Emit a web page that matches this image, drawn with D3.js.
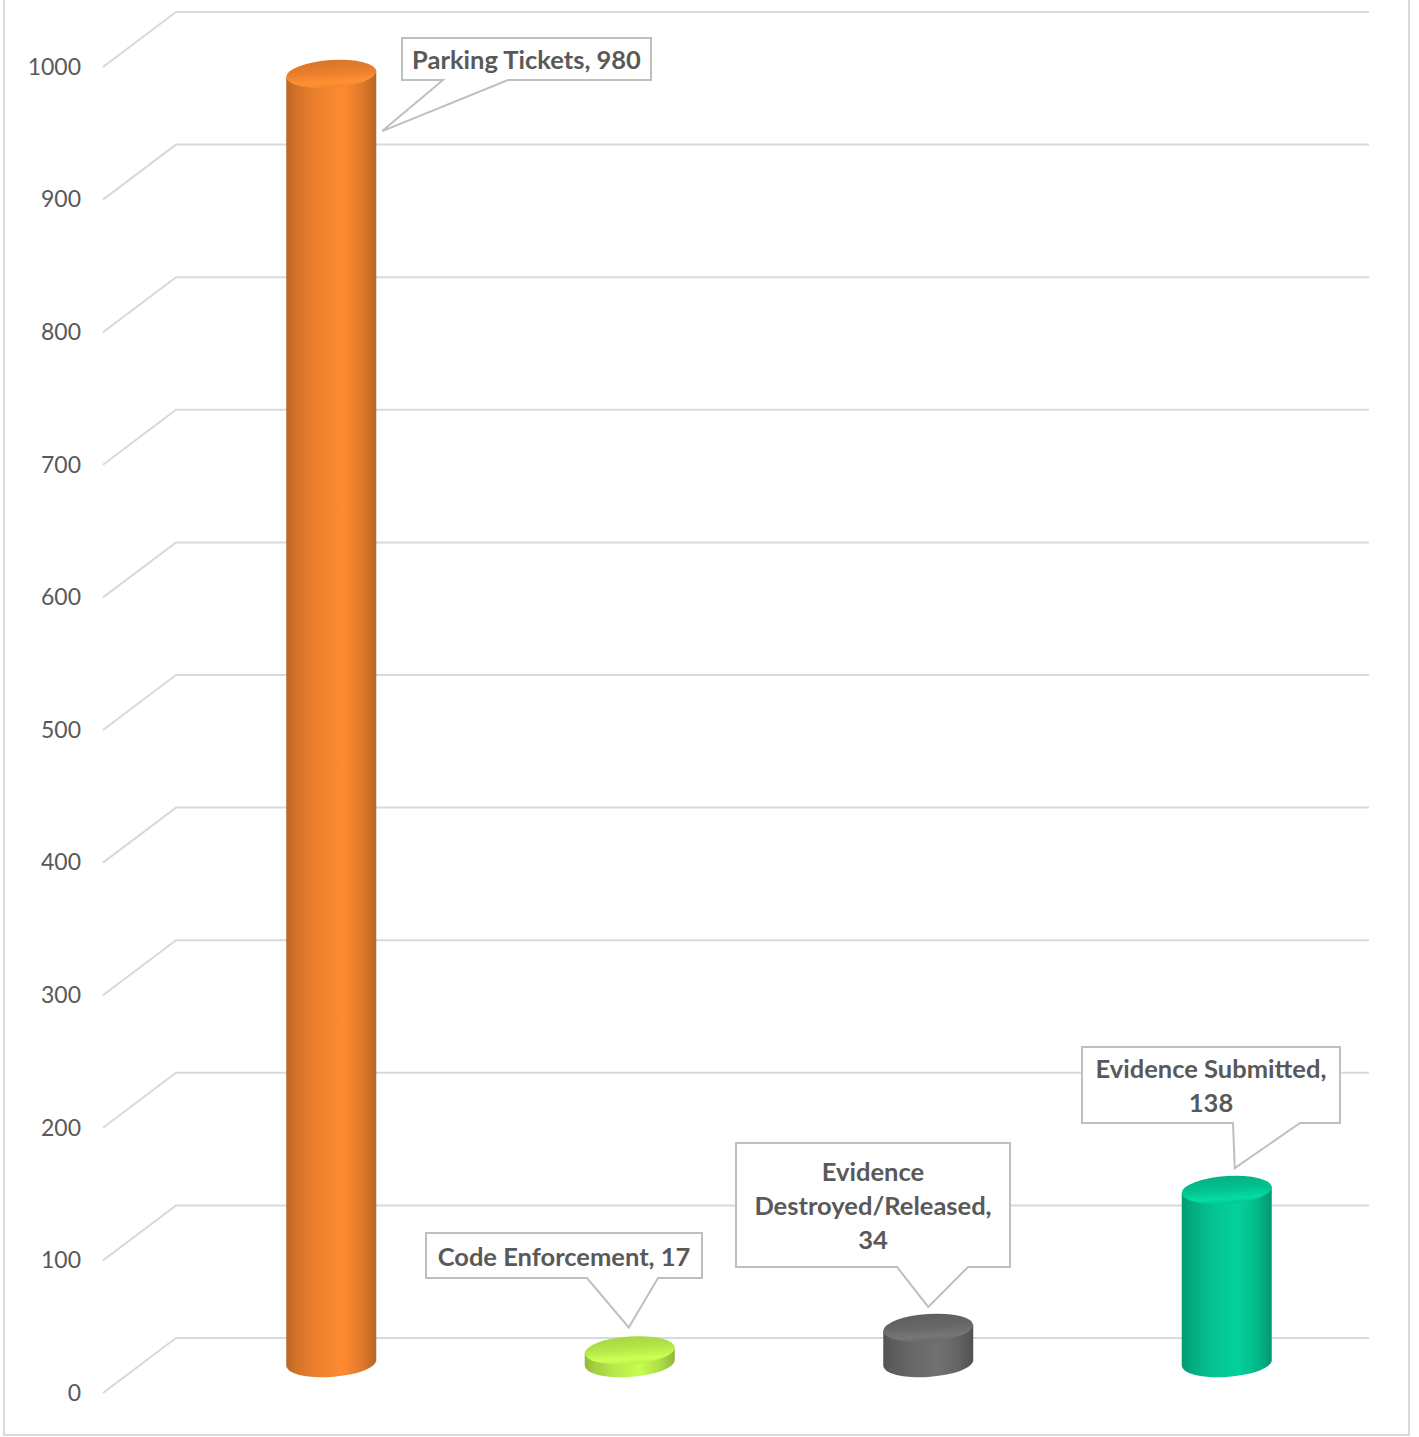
<!DOCTYPE html>
<html>
<head>
<meta charset="utf-8">
<script src="https://cdn.jsdelivr.net/npm/d3@7"></script>
<style>
  body { margin: 0; background: #ffffff; }
  svg { display: block; }
</style>
</head>
<body>
<svg id="chart" width="1419" height="1437"></svg>
<script>
// ---- data ----
const categories = ["Parking Tickets", "Code Enforcement", "Evidence Destroyed/Released", "Evidence Submitted"];
const values = [980, 17, 34, 138];
const tickValues = [0, 100, 200, 300, 400, 500, 600, 700, 800, 900, 1000];
const barColors = ["#f5852f", "#bdf24c", "#6c6c6c", "#03c995"];

// ---- layout ----
const wall = { left: 176, right: 1369 };          // back wall horizontal extent
const depth = { dx: -73, dy: 55 };                 // offset from back wall to front edge of floor
const radius = { rx: 45, ry: 14 };                 // cylinder cross-section
const tilt = -3.6;                                 // skew of the cylinder ellipses (degrees)

// callout boxes: [x0, y0, x1, y1], pointer base x-range, tip offset from bar top centre, wrap width
const callouts = [
  { box: [402, 38, 651, 80],      base: [443, 508],   tip: [51, 57],  wrap: 400 },
  { box: [426, 1233, 702, 1278],  base: [587, 658],   tip: [-1, -23], wrap: 400 },
  { box: [736, 1143, 1010, 1267], base: [897, 968],   tip: [0, -21],  wrap: 255 },
  { box: [1082, 1047, 1340, 1123], base: [1233, 1300], tip: [8, -22], wrap: 255 }
];

const svg = d3.select("#chart");
const defs = svg.append("defs");

// scales
const yWall = d3.scaleLinear().domain([0, 1000]).range([1338, 12]);
const yBar = d3.scaleLinear().domain([0, 1000]).range([1373, 47.6]);
const floorY = 1363;
const x = d3.scaleBand().domain(categories).range([182, 1376]);

// chart frame
svg.append("path")
  .attr("d", "M4,0 V1435 H1409 V0")
  .attr("fill", "none")
  .attr("stroke", "#d9d9d9")
  .attr("stroke-width", 2);

// gridlines: side wall diagonal + back wall horizontal
svg.append("g").selectAll("path")
  .data(tickValues)
  .join("path")
  .attr("d", d => {
    const y = yWall(d);
    return `M${wall.left + depth.dx},${y + depth.dy} L${wall.left},${y} L${wall.right},${y}`;
  })
  .attr("fill", "none")
  .attr("stroke", "#d9d9d9")
  .attr("stroke-width", 2);

// value axis labels sit at the front edge of the side wall
const axis = svg.append("g")
  .attr("transform", `translate(81,${depth.dy})`)
  .call(d3.axisLeft(yWall).tickValues(tickValues).tickSize(0).tickPadding(0).tickFormat(d3.format("d")));
axis.select(".domain").remove();
axis.selectAll("text")
  .attr("font-family", "Lato, 'Open Sans', sans-serif")
  .attr("font-size", 23)
  .attr("fill", "#595959");

// gradients for each cylinder
barColors.forEach((c, i) => {
  const base = d3.color(c);
  const side = defs.append("linearGradient").attr("id", `side${i}`)
    .attr("x1", 0).attr("x2", 1).attr("y1", 0).attr("y2", 0);
  [[0, base.darker(0.75)], [0.1, base.darker(0.45)], [0.35, base.darker(0.08)],
   [0.62, base.brighter(0.12)], [0.84, base.darker(0.25)], [1, base.darker(0.8)]]
    .forEach(([o, col]) => side.append("stop").attr("offset", o).attr("stop-color", col.formatHex()));

  const top = defs.append("linearGradient").attr("id", `top${i}`)
    .attr("x1", 0).attr("x2", 0).attr("y1", 0).attr("y2", 1);
  [[0, base.darker(0.35)], [0.45, base.darker(0.12)], [0.8, base.brighter(0.25)], [1, base.darker(0.05)]]
    .forEach(([o, col]) => top.append("stop").attr("offset", o).attr("stop-color", col.formatHex()));
});

// cylinders
const bars = svg.append("g").selectAll("g")
  .data(values)
  .join("g")
  .attr("transform", (d, i) => `translate(${x(categories[i]) + x.bandwidth() / 2},0) skewY(${tilt})`);

bars.append("path")
  .attr("d", d => {
    const t = yBar(d), b = floorY, { rx, ry } = radius;
    return `M${-rx},${t} L${-rx},${b} A${rx},${ry} 0 0 0 ${rx},${b} L${rx},${t} Z`;
  })
  .attr("fill", (d, i) => `url(#side${i})`);

bars.append("ellipse")
  .attr("cx", 0)
  .attr("cy", d => yBar(d))
  .attr("rx", radius.rx)
  .attr("ry", radius.ry)
  .attr("fill", (d, i) => `url(#top${i})`);

// callouts
function wrapLines(text, maxWidth, probe) {
  const words = text.split(" ");
  const lines = [];
  let line = "";
  words.forEach(w => {
    const test = line ? line + " " + w : w;
    probe.text(test);
    if (line && probe.node().getComputedTextLength() > maxWidth) {
      lines.push(line);
      line = w;
    } else {
      line = test;
    }
  });
  if (line) lines.push(line);
  return lines;
}

const labelFont = { family: "Lato, 'Open Sans', sans-serif", size: 25.5, weight: 700 };
const probe = svg.append("text")
  .attr("font-family", labelFont.family)
  .attr("font-size", labelFont.size)
  .attr("font-weight", labelFont.weight)
  .attr("visibility", "hidden");

const labels = svg.append("g");
values.forEach((v, i) => {
  const c = callouts[i];
  const cx = x(categories[i]) + x.bandwidth() / 2;
  const tipX = cx + c.tip[0];
  const tipY = yBar(v) + c.tip[1];
  const [x0, y0, x1, y1] = c.box;
  const g = labels.append("g");
  g.append("path")
    .attr("d", `M${x0},${y0} H${x1} V${y1} H${c.base[1]} L${tipX},${tipY} L${c.base[0]},${y1} H${x0} Z`)
    .attr("fill", "#ffffff")
    .attr("stroke", "#bfbfbf")
    .attr("stroke-width", 2)
    .attr("stroke-linejoin", "miter");

  const lines = wrapLines(`${categories[i]}, ${v}`, c.wrap, probe);
  const midY = (y0 + y1) / 2;
  const lh = 34;
  g.append("text")
    .attr("font-family", labelFont.family)
    .attr("font-size", labelFont.size)
    .attr("font-weight", labelFont.weight)
    .attr("fill", "#595959")
    .attr("text-anchor", "middle")
    .selectAll("tspan")
    .data(lines)
    .join("tspan")
    .attr("x", (x0 + x1) / 2)
    .attr("y", (d, k) => midY + 10 + (k - (lines.length - 1) / 2) * lh)
    .text(d => d);
});
probe.remove();
</script>
</body>
</html>
